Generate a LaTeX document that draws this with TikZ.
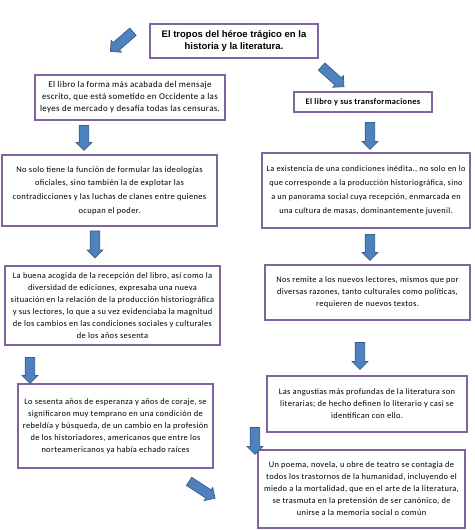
\documentclass[tikz,border=0pt]{standalone}
\usepackage{fontspec}
\setmainfont[LetterSpace=4]{Carlito}
\newfontfamily\titlefont{Liberation Sans}
\usetikzlibrary{shapes.arrows}

\definecolor{boxline}{HTML}{8064A2}
\definecolor{arrowfill}{HTML}{4F81BD}
\definecolor{arrowline}{HTML}{385D8A}

\begin{document}
\begin{tikzpicture}[x = 1pt, y = -1pt,
    textbox/.style = {draw = boxline, line width = 1.5pt, fill = white,
        align = center, inner sep = 2pt,
        font = \fontsize{8.4}{12}\selectfont},
    blockarrow/.style = {single arrow, draw = arrowline, fill = arrowfill,
        line width = 0.7pt, inner sep = 4.5pt, minimum width = 15pt,
        single arrow head extend = 3pt}
]

        \useasboundingbox (0, 0) rectangle (474, 530);

        % Title and the two branches.
        \node[textbox, minimum width = 168pt, minimum height = 34pt,
            font = \titlefont\bfseries\fontsize{9.5}{11.5}\selectfont]
            (title) at (234, 41) {El tropos del héroe trágico en la\\historia y la literatura.};
        \node[textbox, minimum width = 190pt, minimum height = 45pt,
            font = \fontsize{8.9}{12}\selectfont]
            (forma) at (130, 97.5) {El libro la forma más acabada del mensaje\\escrito, que está sometido en Occidente a las\\leyes de mercado y desafía todas las censuras.};
        \node[textbox, minimum width = 138pt, minimum height = 20pt,
            font = \bfseries\fontsize{8.4}{12}\selectfont]
            (transf) at (363, 102) {El libro y sus transformaciones};

        % Left column.
        \node[textbox, minimum width = 215pt, minimum height = 71pt,
            font = \fontsize{8.5}{13.7}\selectfont]
            (ideologias) at (109.5, 190.5) {No solo tiene la función de formular las ideologías\\oficiales, sino también la de explotar las\\contradicciones y las luchas de clanes entre quienes\\ocupan el poder.};
        \node[textbox, minimum width = 215pt, minimum height = 79pt]
            (acogida) at (112.5, 305.5) {La buena acogida de la recepción del libro, así como la\\diversidad de ediciones, expresaba una nueva\\situación en la relación de la producción historiográfica\\y sus lectores, lo que a su vez evidenciaba la magnitud\\de los cambios en las condiciones sociales y culturales\\de los años sesenta};
        \node[textbox, minimum width = 195pt, minimum height = 84pt]
            (sesenta) at (115.5, 426) {Lo sesenta años de esperanza y años de coraje, se\\significaron muy temprano en una condición de\\rebeldía y búsqueda, de un cambio en la profesión\\de los historiadores, americanos que entre los\\norteamericanos ya había echado raíces};

        % Right column.
        \node[textbox, minimum width = 208pt, minimum height = 75pt,
            font = \fontsize{8.3}{14.2}\selectfont]
            (existencia) at (366, 190.5) {La existencia de una condiciones inédita., no solo en lo\\que corresponde a la producción historiográfica, sino\\a un panorama social cuya recepción, enmarcada en\\una cultura de masas, dominantemente juvenil.};
        \node[textbox, minimum width = 205pt, minimum height = 55pt]
            (lectores) at (367.5, 292.5) {Nos remite a los nuevos lectores, mismos que por\\diversas razones, tanto culturales como políticas,\\requieren de nuevos textos.};
        \node[textbox, minimum width = 200pt, minimum height = 56pt]
            (angustias) at (367, 404) {Las angustias más profundas de la literatura son\\literarias; de hecho definen lo literario y casi se\\identifican con ello.};
        \node[textbox, minimum width = 207pt, minimum height = 78pt]
            (poema) at (361.5, 489) {Un poema, novela, u obre de teatro se contagia de\\todos los trastornos de la humanidad, incluyendo el\\miedo a la mortalidad, que en el arte de la literatura,\\se trasmuta en la pretensión de ser canónico, de\\unirse a la memoria social o común};

        % Block arrows.
        \node[blockarrow, minimum height = 30pt, rotate = -139] (arrowA) at (123.5, 40) {};
        \node[blockarrow, minimum height = 30pt, rotate = -42] (arrowB) at (331, 75) {};
        \node[blockarrow, minimum height = 25pt, rotate = -90] (arrowC) at (84, 135.5) {};
        \node[blockarrow, minimum height = 27pt, rotate = -90] (arrowD) at (370, 133.5) {};
        \node[blockarrow, minimum height = 27pt, rotate = -90] (arrowE) at (95, 242) {};
        \node[blockarrow, minimum height = 26pt, rotate = -90] (arrowF) at (370, 245) {};
        \node[blockarrow, minimum height = 26pt, rotate = -90] (arrowG) at (30, 368) {};
        \node[blockarrow, minimum height = 27pt, rotate = -90] (arrowH) at (360, 353.5) {};
        \node[blockarrow, minimum height = 27pt, rotate = -90] (arrowI) at (255, 438.5) {};
        \node[blockarrow, minimum height = 31pt, rotate = -33] (arrowJ) at (200, 488.5) {};
    \end{tikzpicture}
\end{document}
